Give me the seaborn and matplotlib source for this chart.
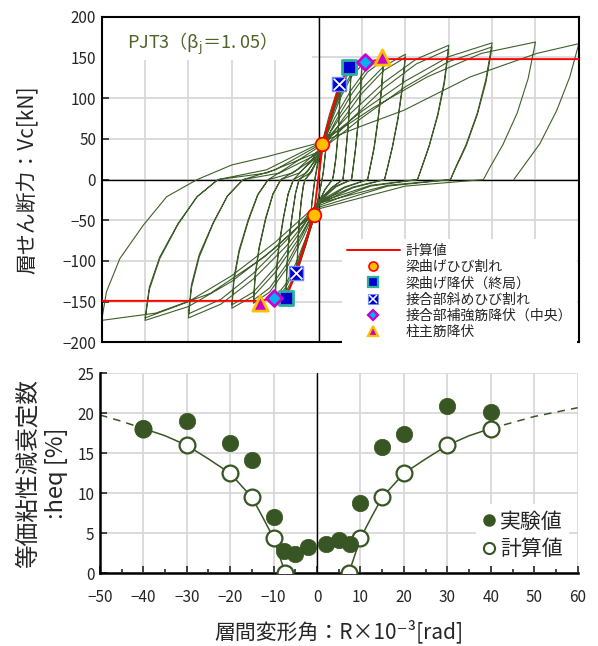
import numpy as np
import matplotlib; matplotlib.use('agg')
import matplotlib.pyplot as plt
from matplotlib.lines import Line2D
from matplotlib.patches import Rectangle
import seaborn as sns


sns.set_style("whitegrid")
plt.rcParams['font.family'] = ['Noto Sans CJK JP', 'DejaVu Sans']

# ---- hysteresis (R x10^-3 rad, Vc kN) ----
r02 = [0, 1, 2, 1.6, 1.1, 0.8, 0, -1, -2, -1.6, -1.1, -0.8,
       0, 1, 2, 1.6, 1.1, 0.8, 0, -1, -2, -1.6, -1.1, -0.9]
v02 = [0, 40, 65, 35, 10, 0, -22, -45, -62, -33, -10, 0,
       24, 46, 63, 33, 9, 0, -21, -44, -60, -31, -9, 0]

r05 = [0, 2.5, 4, 5, 4.8, 4.5, 4.0, 3.5, 3.2, 1.5, 0, -1.5, -3, -4.2, -5, -4.8, -4.5, -4.0, -3.5, -3.1,
       -1.5, 0, 1.5, 3, 4.2, 5, 4.8, 4.5, 4.0, 3.5, 3.2, 1.5, 0, -1.5, -3, -4.2, -5, -4.8, -4.5, -4.0, -3.5, -3.1]
v05 = [28, 80, 105, 118, 88, 58, 28, 8, 0, -12, -30, -55, -82, -102, -115, -85, -55, -27, -8, 0,
       12, 28, 52, 82, 102, 114, 85, 55, 26, 7, 0, -12, -28, -52, -80, -100, -112, -82, -53, -26, -7, 0]

r075 = [-1.5, 0, 2, 4, 6, 7.5, 7.25, 6.85, 6.3, 5.9, 5.6, 3, 0, -2, -4, -6, -7.5, -7.3, -6.9, -6.1, -5.3, -4.5,
        -2, 0, 2, 4, 6, 7.5, 7.25, 6.85, 6.3, 5.9, 5.6, 3, 0, -2, -4, -6, -7.5, -7.3, -6.9, -6.1, -5.3, -4.5]
v075 = [10, 28, 62, 98, 126, 140, 104, 68, 35, 12, 0, -10, -28, -60, -96, -126, -142, -110, -78, -45, -17, 0,
        8, 26, 58, 94, 122, 136, 100, 66, 34, 11, 0, -10, -26, -57, -92, -122, -138, -107, -76, -44, -16, 0]

r10 = [-2.5, 0, 2.5, 5, 7.5, 10, 9.65, 9.15, 8.5, 7.9, 7.6, 4, 0, -2.5, -5, -7.5, -10, -9.75, -9.15, -8.1, -7.0, -5.8,
       -3, 0, 2.5, 5, 7.5, 10, 9.65, 9.15, 8.5, 7.9, 7.6, 4, 0, -2.5, -5, -7.5, -10, -9.75, -9.15, -8.1, -7.0, -5.8]
v10 = [10, 32, 72, 104, 130, 146, 108, 72, 38, 12, 0, -9, -28, -70, -105, -132, -148, -116, -84, -48, -18, 0,
       8, 28, 66, 100, 126, 141, 104, 70, 36, 11, 0, -8, -26, -66, -100, -128, -144, -112, -80, -46, -17, 0]

r15 = [-4, 0, 3.75, 7.5, 11.25, 15, 14.5, 13.7, 12.8, 11.8, 11.3, 6, 0, -3.75, -7.5, -11.25, -15, -14.6, -13.7, -12.2, -10.5, -8.7,
       -4.5, 0, 3.75, 7.5, 11.25, 15, 14.5, 13.7, 12.8, 11.8, 11.3, 6, 0, -3.75, -7.5, -11.25, -15, -14.6, -13.7, -12.2, -10.5, -8.7]
v15 = [10, 34, 76, 110, 137, 152, 112, 75, 40, 13, 0, -10, -30, -73, -110, -138, -152, -119, -85, -49, -18, 0,
       8, 30, 70, 104, 132, 147, 108, 72, 38, 12, 0, -9, -27, -68, -105, -133, -148, -115, -83, -47, -17, 0]

r20 = [-5, 0, 5, 10, 15, 20, 19.3, 18.3, 17, 15.8, 15.2, 8, 0, -5, -10, -15, -20, -19.5, -18.3, -16.2, -14, -11.6,
       -6, 0, 5, 10, 15, 20, 19.3, 18.3, 17, 15.8, 15.2, 8, 0, -5, -10, -15, -20, -19.5, -18.3, -16.2, -14, -11.6]
v20 = [12, 36, 77, 112, 139, 154, 114, 76, 40, 13, 0, -10, -30, -76, -114, -143, -158, -124, -89, -51, -19, 0,
       8, 30, 70, 106, 134, 150, 111, 74, 39, 12, 0, -9, -27, -70, -108, -138, -154, -120, -86, -49, -18, 0]

r30 = [-8, 0, 7.5, 15, 22.5, 30, 29, 27.5, 25.5, 23.7, 22.8, 12, 0, -7.5, -15, -22.5, -30, -29.3, -27.5, -24.3, -21, -17.4,
       -9, 0, 7.5, 15, 22.5, 30, 29, 27.5, 25.5, 23.7, 22.8, 12, 0, -7.5, -15, -22.5, -30, -29.3, -27.5, -24.3, -21, -17.4]
v30 = [12, 40, 82, 119, 148, 165, 122, 81, 42, 14, 0, -8, -32, -82, -122, -153, -170, -133, -95, -54, -20, 0,
       8, 32, 74, 112, 142, 160, 118, 79, 41, 13, 0, -7, -28, -75, -115, -147, -165, -129, -92, -53, -20, 0]

r40 = [-10, 0, 10, 20, 30, 40, 38.6, 36.6, 34, 31.5, 30.4, 16, 0, -10, -20, -30, -40, -39, -36.6, -32.4, -28, -23.2,
       -12, 0, 10, 20, 30, 40, 38.6, 36.6, 34, 31.5, 30.4, 16, 0, -10, -20, -30, -40, -39, -36.6, -32.4, -28, -23.2]
v40 = [12, 42, 84, 121, 151, 168, 124, 82, 43, 14, 0, -8, -34, -84, -125, -156, -173, -135, -97, -55, -21, 0,
       8, 34, 76, 114, 145, 163, 120, 80, 41, 13, 0, -7, -29, -77, -118, -150, -170, -132, -95, -54, -21, 0]

r50 = [-12, 0, 12.5, 25, 37.5, 50, 48.3, 45.8, 42.5, 39.4, 38, 20, 0, -12.5, -25, -37.5, -50, -48.9, -45.8, -40.4, -35, -28,
       -20, -12, 0, 10, 19.6, 34.9, 50.3, 60, 57.9, 54.9, 51, 47.2, 45]
v50 = [12, 44, 88, 126, 155, 169, 124, 82, 43, 14, 0, -8, -36, -95, -140, -164, -173, -138, -97, -56, -21, 0,
       18, 28, 45, 66, 85, 126, 155, 167, 126, 85, 44, 16, 0]

# ---- calculated skeleton and event points ----
calc_R = [-50, -13.6, -10.2, -7.6, -5.2, -1.1, 0.9, 4.8, 7.1, 10.6, 14.6, 60]
calc_V = [-149, -149, -146, -146, -114.5, -44, 44, 117, 138, 144, 148, 148]

crack_R, crack_V = [0.9, -1.1], [44, -44]
byield_R, byield_V = [7.1, -7.6], [138, -146]
jcrack_R, jcrack_V = [4.8, -5.2], [117, -114.5]
jyield_R, jyield_V = [10.6, -10.2], [144, -146]
cyield_R, cyield_V = [14.6, -13.6], [151, -152]

# ---- equivalent damping ----
exp_R = [-40, -30, -20, -15, -10, -7.5, -5, -2, 2, 5, 7.5, 10, 15, 20, 30, 40]
exp_h = [18.2, 19.1, 16.3, 14.2, 7.1, 2.8, 2.4, 3.25, 3.7, 4.2, 3.7, 8.8, 15.8, 17.4, 20.9, 20.2]

cal_R = [-40, -30, -20, -15, -10, -7.3, 7.3, 10, 15, 20, 30, 40]
cal_h = [18.1, 16.0, 12.5, 9.5, 4.4, 0, 0, 4.4, 9.5, 12.5, 16.0, 18.1]

curveL_R = [-40, -35, -30, -25, -20, -15, -12.5, -10, -7.3]
curveL_h = [18.1, 17.2, 16.0, 14.3, 12.5, 9.5, 7.0, 4.4, 0]
curveR_R = [7.3, 10, 12.5, 15, 20, 25, 30, 35, 40]
curveR_h = [0, 4.4, 7.0, 9.5, 12.5, 14.3, 16.0, 17.2, 18.1]
dashL_R, dashL_h = [-50, -45, -40], [19.8, 19.0, 18.1]
dashR_R, dashR_h = [40, 50, 60], [18.1, 19.6, 20.7]

green = '#375623'
grid_c = '#d9d9d9'

fig = plt.figure(figsize=(5.98, 6.46), dpi=100)
ax1 = fig.add_axes([0.170, 0.470, 0.798, 0.504])
ax2 = fig.add_axes([0.167, 0.1125, 0.799, 0.3096])

# ---------------- top: hysteresis ----------------
hR = r02 + r05 + r075 + r10 + r15 + r20 + r30 + r40 + r50
hV = v02 + v05 + v075 + v10 + v15 + v20 + v30 + v40 + v50
ax1.axhline(0, color='black', lw=1, zorder=1.2)
ax1.axvline(0, color='black', lw=1, zorder=1.2)
sns.lineplot(x=hR, y=hV, sort=False, estimator=None, color='#3f5f2a', lw=0.8, ax=ax1, zorder=2)
sns.lineplot(x=calc_R, y=calc_V, sort=False, estimator=None, color='#ff0000', lw=1.4, ax=ax1, zorder=3)

sns.scatterplot(x=crack_R, y=crack_V, marker='o', s=95, color='#ffc000', edgecolor='#ff0000',
                linewidth=1.3, ax=ax1, zorder=4, legend=False)
sns.scatterplot(x=byield_R, y=byield_V, marker='s', s=110, color='#0000cc', edgecolor='#2ab0a0',
                linewidth=2, ax=ax1, zorder=4, legend=False)
sns.scatterplot(x=jcrack_R, y=jcrack_V, marker='s', s=100, color='#0000cc', edgecolor='#6f8cff',
                linewidth=1, ax=ax1, zorder=4, legend=False)
sns.scatterplot(x=jcrack_R, y=jcrack_V, marker='x', s=70, color='white', linewidth=1.3,
                ax=ax1, zorder=5, legend=False)
sns.scatterplot(x=jyield_R, y=jyield_V, marker='D', s=65, color='#00b0f0', edgecolor='#cc00cc',
                linewidth=2, ax=ax1, zorder=4, legend=False)
sns.scatterplot(x=cyield_R, y=cyield_V, marker='^', s=120, color='#cc00cc', edgecolor='#ffc000',
                linewidth=2, ax=ax1, zorder=4, legend=False)

ax1.set_xlim(-50, 60)
ax1.set_ylim(-200, 200)
ax1.set_xticks(np.arange(-50, 61, 10))
ax1.set_yticks(np.arange(-200, 201, 50))
ax1.grid(True, color=grid_c, lw=1.3)
ax1.tick_params(axis='x', length=0, labelbottom=False)
ax1.tick_params(axis='y', direction='in', length=5, width=1.2, left=True, labelsize=11, pad=4)
for sp in ax1.spines.values():
    sp.set_color('black')
    sp.set_linewidth(1.5)
ax1.set_xlabel('')
ax1.set_ylabel('層せん断力：Vc[kN]', fontsize=15)
ax1.yaxis.set_label_coords(-0.131, 0.5)

ax1.add_patch(Rectangle((0, 0.867), 0.441, 0.133, transform=ax1.transAxes,
                        facecolor='white', edgecolor='none', zorder=1))
ax1.text(0.053, 0.918, r'PJT3（β$_\mathregular{j}$＝1. 05）', transform=ax1.transAxes,
         color='#4f6228', fontsize=13, va='center', ha='left', zorder=6)

h_line = Line2D([], [], color='#ff0000', lw=1.4)
h_crack = Line2D([], [], ls='', marker='o', ms=6.5, mfc='#ffc000', mec='#ff0000', mew=1.2)
h_byield = Line2D([], [], ls='', marker='s', ms=6.5, mfc='#0000cc', mec='#2ab0a0', mew=1.6)
h_jsq = Line2D([], [], ls='', marker='s', ms=7, mfc='#0000cc', mec='#6f8cff', mew=0.8)
h_jx = Line2D([], [], ls='', marker='x', ms=5.5, mec='white', mew=1.1)
h_jyield = Line2D([], [], ls='', marker='D', ms=5.5, mfc='#00b0f0', mec='#cc00cc', mew=1.6)
h_cyield = Line2D([], [], ls='', marker='^', ms=7, mfc='#cc00cc', mec='#ffc000', mew=1.6)
leg1 = ax1.legend([h_line, h_crack, h_byield, (h_jsq, h_jx), h_jyield, h_cyield],
                  ['計算値', '梁曲げひび割れ', '梁曲げ降伏（終局）', '接合部斜めひび割れ',
                   '接合部補強筋降伏（中央）', '柱主筋降伏'],
                  loc='lower right', bbox_to_anchor=(1, -0.012), borderaxespad=0.15, fontsize=10,
                  handlelength=3.8, handletextpad=0.4, labelspacing=0.17, borderpad=0.35,
                  frameon=True, fancybox=False, framealpha=1, facecolor='white', edgecolor='none')
leg1.set_zorder(7)

# ---------------- bottom: damping ----------------
sns.lineplot(x=dashL_R, y=dashL_h, color=green, lw=1.1, ax=ax2, zorder=2).lines[-1].set_dashes((5, 4))
sns.lineplot(x=dashR_R, y=dashR_h, color=green, lw=1.1, ax=ax2, zorder=2).lines[-1].set_dashes((5, 4))
sns.lineplot(x=curveL_R, y=curveL_h, color=green, lw=1.1, ax=ax2, zorder=2)
sns.lineplot(x=curveR_R, y=curveR_h, color=green, lw=1.1, ax=ax2, zorder=2)
ax2.axvline(0, color='black', lw=1, zorder=1.2)
sns.scatterplot(x=cal_R, y=cal_h, marker='o', s=130, color='white', edgecolor=green,
                linewidth=1.6, ax=ax2, zorder=3, legend=False)
sns.scatterplot(x=exp_R, y=exp_h, marker='o', s=140, color=green, edgecolor=green,
                linewidth=0.5, ax=ax2, zorder=4, legend=False)

ax2.set_xlim(-50, 60)
ax2.set_ylim(0, 25)
ax2.set_xticks(np.arange(-50, 61, 10))
ax2.set_xticks(np.arange(-45, 60, 10), minor=True)
ax2.set_yticks(np.arange(0, 26, 5))
ax2.grid(True, which='major', color=grid_c, lw=1.3)
ax2.tick_params(axis='x', which='major', direction='in', length=5, width=1.2, bottom=True, labelsize=11, pad=11)
ax2.tick_params(axis='x', which='minor', direction='in', length=3, width=1.2, bottom=True)
ax2.tick_params(axis='y', direction='in', length=5, width=1.2, left=True, labelsize=11, pad=4)
for side in ['top', 'right']:
    ax2.spines[side].set_visible(False)
for side in ['left', 'bottom']:
    ax2.spines[side].set_color('black')
    ax2.spines[side].set_linewidth(1.8)
ax2.set_xlabel('層間変形角：R×10⁻³[rad]', fontsize=15, labelpad=10)
ax2.set_ylabel('等価粘性減衰定数\n:heq [%]', fontsize=17, linespacing=1.3)
ax2.yaxis.set_label_coords(-0.066, 0.5)

h_exp = Line2D([], [], ls='', marker='o', ms=8, mfc=green, mec=green)
h_cal = Line2D([], [], ls='', marker='o', ms=8, mfc='white', mec=green, mew=1.5)
leg2 = ax2.legend([h_exp, h_cal], ['実験値', '計算値'], loc='lower right', bbox_to_anchor=(0.99, 0.015),
                  borderaxespad=0.2, fontsize=15, handlelength=0.7, handletextpad=0.15,
                  labelspacing=0.25, borderpad=0.3,
                  frameon=True, fancybox=False, framealpha=1, facecolor='white', edgecolor='none')
leg2.set_zorder(7)

fig.savefig('out.png', dpi=100)
